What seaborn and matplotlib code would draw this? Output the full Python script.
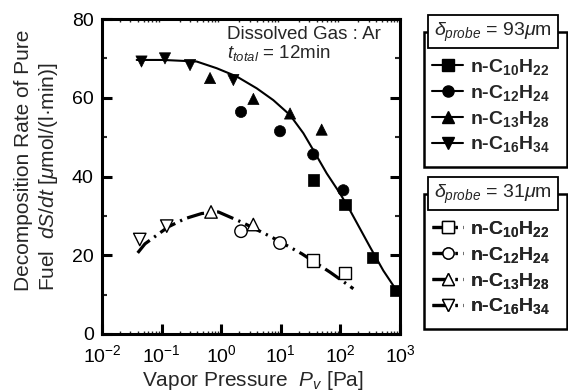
import numpy as np
import pandas as pd
import matplotlib
matplotlib.use("Agg")
import matplotlib.pyplot as plt
import seaborn as sns
from matplotlib.lines import Line2D
from matplotlib.patches import Rectangle
from matplotlib.ticker import LogLocator, MultipleLocator, NullFormatter

# ---------------- data ----------------
fuels = ["n-C10H22", "n-C12H24", "n-C13H28", "n-C16H34"]
fuel_labels = [r"n-C$_\mathbf{10}$H$_\mathbf{22}$", r"n-C$_\mathbf{12}$H$_\mathbf{24}$",
               r"n-C$_\mathbf{13}$H$_\mathbf{28}$", r"n-C$_\mathbf{16}$H$_\mathbf{34}$"]
fuel_markers = ["s", "o", "^", "v"]

# delta_probe = 93 um (filled symbols)
p93_c10 = [35, 119, 348, 847]
r93_c10 = [39.1, 32.9, 19.5, 11.0]
p93_c12 = [2.15, 9.7, 35, 112]
r93_c12 = [56.4, 51.5, 45.6, 36.5]
p93_c13 = [0.65, 3.47, 14.3, 48.5]
r93_c13 = [65.0, 59.7, 56.0, 51.9]
p93_c16 = [0.046, 0.114, 0.30, 1.6]
r93_c16 = [69.2, 70.0, 68.3, 64.5]

# delta_probe = 31 um (open symbols)
p31_c10 = [35, 119]
r31_c10 = [18.7, 15.5]
p31_c12 = [2.15, 9.7]
r31_c12 = [26.1, 23.1]
p31_c13 = [0.675, 3.46]
r31_c13 = [31.0, 27.8]
p31_c16 = [0.043, 0.122]
r31_c16 = [24.0, 27.4]

# trend curves
fit93_p = [0.0382, 0.107, 0.388, 0.84, 1.82, 3.94, 7.48, 14.3, 23.9, 35.1, 58.9,
           98.4, 145, 314, 525, 881]
fit93_r = [69.6, 69.6, 69.2, 67.5, 65.4, 62.4, 59.4, 55.6, 51.0, 46.7, 40.8,
           35.7, 31.4, 22.1, 16.1, 11.0]
fit31_p = [0.0397, 0.0526, 0.129, 0.247, 0.471, 0.894, 2.21, 7.03, 22.4, 67, 165]
fit31_r = [20.6, 22.9, 27.2, 29.3, 30.6, 31.0, 28.4, 24.6, 20.4, 15.7, 11.5]

x_ticks = [1e-2, 1e-1, 1e0, 1e1, 1e2, 1e3]
x_ticklabels = [r"$10^{-2}$", r"$10^{-1}$", r"$10^{0}$", r"$10^{1}$", r"$10^{2}$", r"$10^{3}$"]
y_ticks = [0, 20, 40, 60, 80]

df93 = pd.DataFrame({
    "P": p93_c10 + p93_c12 + p93_c13 + p93_c16,
    "rate": r93_c10 + r93_c12 + r93_c13 + r93_c16,
    "fuel": [fuels[0]] * len(p93_c10) + [fuels[1]] * len(p93_c12)
            + [fuels[2]] * len(p93_c13) + [fuels[3]] * len(p93_c16),
})
df31 = pd.DataFrame({
    "P": p31_c10 + p31_c12 + p31_c13 + p31_c16,
    "rate": r31_c10 + r31_c12 + r31_c13 + r31_c16,
    "fuel": [fuels[0]] * len(p31_c10) + [fuels[1]] * len(p31_c12)
            + [fuels[2]] * len(p31_c13) + [fuels[3]] * len(p31_c16),
})

# ---------------- style ----------------
sns.set_style("ticks")
plt.rcParams["font.family"] = ["Liberation Sans", "DejaVu Sans"]
plt.rcParams["mathtext.fontset"] = "custom"
plt.rcParams["mathtext.rm"] = "Liberation Sans"
plt.rcParams["mathtext.it"] = "Liberation Sans:italic"
plt.rcParams["mathtext.bf"] = "Liberation Sans:bold"
plt.rcParams["mathtext.sf"] = "Liberation Sans"

W, H = 568, 392
fig = plt.figure(figsize=(W / 100, H / 100), dpi=100)
fig.patch.set_facecolor("white")
ax = fig.add_axes([102 / W, 58 / H, 298 / W, 315 / H])

dash_dot = (0, (5.5, 1.7, 0.7, 1.7))

sns.lineplot(x=fit93_p, y=fit93_r, color="black", linewidth=1.5, sort=False,
             estimator=None, ax=ax, zorder=2)
sns.lineplot(x=fit31_p, y=fit31_r, color="black", linewidth=2.3, sort=False,
             estimator=None, linestyle=dash_dot, ax=ax, zorder=2)

mk = dict(zip(fuels, fuel_markers))
sns.scatterplot(data=df93, x="P", y="rate", style="fuel", markers=mk, color="black",
                edgecolor="black", linewidth=0.5, s=65, legend=False, ax=ax, zorder=3)
sns.scatterplot(data=df31, x="P", y="rate", style="fuel", markers=mk, color="white",
                edgecolor="black", linewidth=1.0, s=80, legend=False, ax=ax, zorder=3)

ax.set_xscale("log")
ax.set_xlim(1e-2, 1e3)
ax.set_ylim(0, 80)
ax.set_xticks(x_ticks)
ax.set_xticklabels(x_ticklabels)
ax.xaxis.set_minor_locator(LogLocator(base=10, subs=np.arange(2, 10)))
ax.xaxis.set_minor_formatter(NullFormatter())
ax.set_yticks(y_ticks)
ax.yaxis.set_minor_locator(MultipleLocator(10))
ax.set_xlabel("")
ax.set_ylabel("")

for s in ax.spines.values():
    s.set_linewidth(2.2)
    s.set_color("black")

ax.tick_params(axis="both", which="major", direction="in", length=7, width=2.2,
               labelsize=14, pad=6, colors="black")
ax.tick_params(axis="x", which="major", top=False, pad=7)
ax.tick_params(axis="y", which="major", right=True, length=7)
ax.tick_params(axis="x", which="minor", direction="in", length=2.5, width=1.0, top=True)
ax.tick_params(axis="y", which="minor", direction="in", length=3.5, width=1.5, right=True)

ax.text(0.419, 0.938, "Dissolved Gas : Ar", transform=ax.transAxes, fontsize=13.5,
        ha="left", va="baseline")
ax.text(0.419, 0.876, r"$t_{total}$ = 12min", transform=ax.transAxes, fontsize=13.5,
        ha="left", va="baseline")

fig.text(37 / W, 1 - 160 / H,
         "Decomposition Rate of Pure\nFuel  $dS/dt$ [$\\mu$mol/(l\u00b7min)]",
         rotation=90, ha="center", va="center", multialignment="left",
         fontsize=15, linespacing=1.2)
fig.text(253 / W, 1 - 386 / H, "Vapor Pressure  $P_v$ [Pa]", ha="center",
         va="baseline", fontsize=15)

# ---------------- legends ----------------
def make_legend(handles, anchor_top_px, frame_top_px, title):
    frame = Rectangle((424 / W, 1 - (frame_top_px + 135) / H), 143 / W, 135 / H,
                      transform=fig.transFigure, fill=False, ec="black", lw=1.8, zorder=5)
    fig.add_artist(frame)
    tb_top = frame_top_px - 17
    tbox = Rectangle((428 / W, 1 - (tb_top + 33) / H), 130 / W, 33 / H,
                     transform=fig.transFigure, fc="white", ec="black", lw=1.3, zorder=6)
    fig.add_artist(tbox)
    fig.text(493 / W, 1 - (tb_top + 17) / H, title, ha="center", va="center",
             fontsize=14, zorder=7)
    leg = ax.legend(handles=handles, labels=fuel_labels, loc="upper left",
                    bbox_to_anchor=(432 / W, 1 - (anchor_top_px + 1) / H),
                    bbox_transform=fig.transFigure, frameon=False,
                    prop={"size": 14, "weight": "bold"}, handlelength=1.6,
                    handletextpad=0.35, labelspacing=0.3, borderpad=0,
                    borderaxespad=0)
    ax.add_artist(leg)
    return leg

h93 = [Line2D([], [], color="black", lw=1.5, marker=m, markersize=8,
              markerfacecolor="black", markeredgecolor="black") for m in fuel_markers]
h31 = [Line2D([], [], color="black", lw=2.3, linestyle=dash_dot, marker=m, markersize=8,
              markerfacecolor="white", markeredgecolor="black", markeredgewidth=1.0)
       for m in fuel_markers]

make_legend(h93, 56, 32, r"$\delta_{probe}$ = 93$\mu$m")
make_legend(h31, 218, 194, r"$\delta_{probe}$ = 31$\mu$m")

fig.savefig("out.png", dpi=100)
